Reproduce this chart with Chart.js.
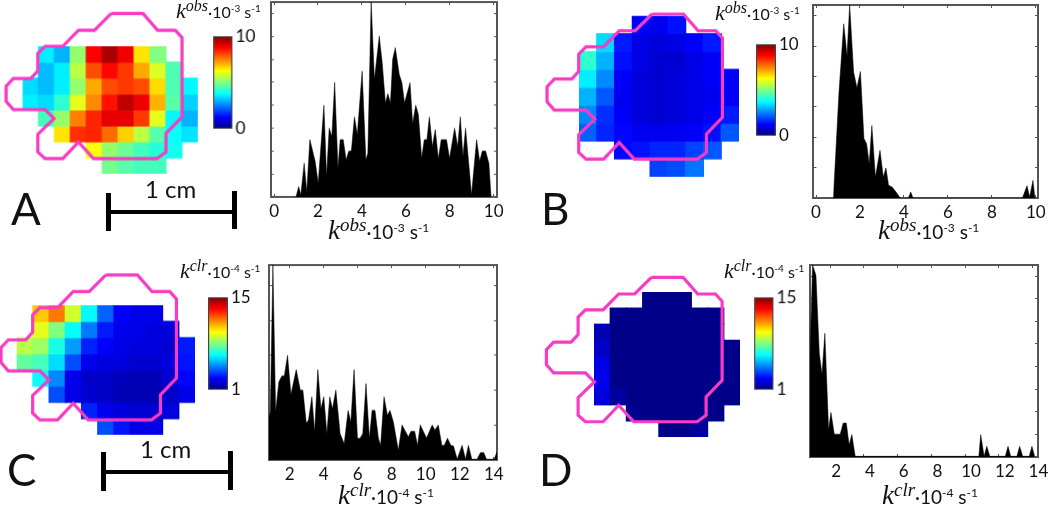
<!DOCTYPE html>
<html>
<head>
<meta charset="utf-8">
<title>kobs and kclr maps</title>
<script src="https://cdn.jsdelivr.net/npm/chart.js@4"></script>
<style>
  html, body { margin: 0; padding: 0; background: #fff; }
  #page { position: relative; width: 1050px; height: 506px; overflow: hidden; font-family: Lato, sans-serif; color: #111; }
  #page canvas { position: absolute; }
  .txt { position: absolute; white-space: nowrap; line-height: 1; }
  .rate { font-size: 19px; }
  .rate i { font-family: "Liberation Serif", serif; font-size: 27px; }
  .rate sup { font-size: 12px; vertical-align: 7px; line-height: 0; }
  .rate sup.ob { font-family: "Liberation Serif", serif; font-style: italic; font-size: 19px; vertical-align: 8px; }
  .rate.small { font-size: 16px; }
  .rate.small i { font-size: 22px; }
  .rate.small sup { font-size: 10px; vertical-align: 6px; }
  .rate.small sup.ob { font-size: 16px; vertical-align: 7px; }
  .panel { font-size: 44px; }
  .cm { font-size: 24px; }
  .bar { position: absolute; background: #000; }
</style>
</head>
<body>
<div id="page"></div>
<script>
// ── values ───────────────────────────────────────────────────
const mapA = [
  [null, 3.6, 3.0, 5.2, 8.8, 9.6, 8.9, 6.5, 5.0, null, null],
  [null, 3.1, 3.6, 5.6, 8.0, 8.7, 8.2, 7.1, 5.9, 4.5, null],
  [3.4, 3.1, 3.6, 5.2, 7.1, 8.0, 8.2, 8.0, 6.6, 4.5, 3.7],
  [3.6, 3.4, 4.2, 6.0, 7.4, 8.6, 9.4, 8.9, 7.0, 4.6, 3.3],
  [null, 4.4, 5.2, 7.5, 8.4, 9.0, 9.0, 8.2, 6.0, 3.7, 3.0],
  [null, null, 6.5, 8.3, 8.4, 7.7, 6.7, 5.6, 4.6, 3.8, 3.5],
  [null, null, null, null, 6.2, 5.2, 4.8, 4.4, 4.1, 3.9, null],
  [null, null, null, null, null, 4.9, 4.6, 4.4, 4.4, null, null],
];
const mapB = [
  [null, null, null, 1.2, 1.1, 1.4, null, null, null],
  [null, 3.4, 1.5, 1.0, 0.9, 1.0, 1.2, 1.5, null],
  [4.2, 3.0, 1.4, 1.0, 0.8, 0.8, 1.0, 1.2, null],
  [3.6, 2.6, 1.2, 0.9, 0.8, 0.9, 1.0, 1.2, 1.2],
  [3.0, 2.1, 1.1, 0.9, 0.8, 0.9, 1.0, 1.1, 1.2],
  [2.6, 1.7, 1.2, 0.9, 0.8, 0.9, 1.0, 1.2, 1.5],
  [2.2, 1.6, 1.3, 1.1, 1.1, 1.1, 1.2, 1.4, 2.1],
  [null, null, 1.3, 1.4, 1.6, 1.6, 1.9, 2.1, null],
  [null, null, null, null, 1.9, 2.0, 2.4, null, null],
];
const mapC = [
  [null, 10.5, 11.6, 9.1, 6.2, 4.1, 2.7, 2.4, 2.4, null, null],
  [null, 9.4, 8.0, 6.3, 4.4, 3.1, 2.5, 2.4, 2.3, 2.3, null],
  [8.8, 8.4, 6.6, 4.9, 3.2, 2.7, 2.4, 2.3, 2.3, 2.1, 3.1],
  [7.6, 7.2, 5.8, 3.8, 2.5, 2.3, 2.3, 2.1, 2.1, 2.3, 3.0],
  [null, 6.3, 4.6, 2.5, 2.0, 2.0, 1.8, 1.7, 1.8, 2.1, 2.8],
  [null, null, 3.8, 2.4, 2.1, 2.0, 1.7, 1.7, 1.7, 2.0, 2.4],
  [null, null, null, null, 3.2, 2.5, 2.3, 2.1, 2.1, 2.3, null],
  [null, null, null, null, null, 3.8, 3.0, 2.4, 2.4, null, null],
];
const mapD = [
  [null, null, null, 1.1, 1.1, 1.1, null, null, null],
  [null, 1.1, 1.1, 1.1, 1.1, 1.1, 1.1, 1.1, null],
  [1.7, 1.1, 1.1, 1.1, 1.1, 1.1, 1.1, 1.1, null],
  [2.0, 1.1, 1.1, 1.1, 1.1, 1.1, 1.1, 1.1, 1.1],
  [2.4, 1.1, 1.1, 1.1, 1.1, 1.1, 1.1, 1.1, 1.1],
  [2.5, 1.1, 1.1, 1.1, 1.1, 1.1, 1.1, 1.1, 1.1],
  [2.3, 1.4, 1.1, 1.1, 1.1, 1.1, 1.1, 1.1, 1.1],
  [null, null, 1.2, 1.1, 1.1, 1.1, 1.1, 1.1, null],
  [null, null, null, null, 1.1, 1.1, 1.4, null, null],
];

// the magenta region outline, same shape in every map
const outlineX = [111, 142.7, 157.3, 175, 181.7, 181.7, 165.7, 165.7, 156.7, 93.3, 78.3, 62.7, 45, 37.7, 37.7, 54, 45, 13.3, 6, 6, 13.3, 30.7, 37.7, 37.7, 45, 62.7, 78.3, 94.3, 111];
const outlineY = [13.3, 13.3, 30, 30, 37.3, 116.7, 133.3, 151.7, 158.3, 158.3, 141.7, 158.3, 158.3, 151.7, 134, 118.3, 109.3, 109.3, 101, 86, 78.3, 78.3, 70.7, 53.3, 46, 46, 30, 30, 13.3];

const histAX = [1.0, 1.12, 1.22, 1.37, 1.49, 1.63, 1.87, 2.01, 2.27, 2.39, 2.51, 2.63, 2.76, 2.91, 3.01, 3.15, 3.28, 3.4, 3.52, 3.66, 3.79, 4.01, 4.18, 4.27, 4.42, 4.57, 4.79, 4.93, 5.07, 5.18, 5.3, 5.4, 5.52, 5.7, 5.82, 5.94, 6.19, 6.31, 6.45, 6.57, 6.72, 6.84, 6.96, 7.07, 7.21, 7.34, 7.48, 7.61, 7.85, 7.99, 8.22, 8.36, 8.48, 8.6, 8.72, 8.99, 9.22, 9.36, 9.48, 9.63, 9.78, 9.88];
const histAY = [0, 0.45, 0.09, 1.47, 0.23, 2.5, 1.55, 0.6, 4.0, 0.89, 3.0, 2.64, 5.0, 1.26, 2.5, 2.5, 1.62, 1.99, 2.01, 3.49, 2.72, 5.49, 1.62, 1.9, 8.55, 5.12, 7.02, 5.78, 4.1, 4.5, 4.1, 6.0, 6.51, 5.34, 4.98, 4.1, 4.98, 3.2, 4.0, 3.6, 1.69, 2.5, 2.5, 3.49, 2.2, 2.94, 1.66, 2.5, 2.5, 1.69, 3.0, 2.2, 3.49, 1.77, 3.0, 0.09, 2.5, 1.55, 2.0, 2.0, 1.47, 0];

const histBX = [0.79, 1.04, 1.26, 1.41, 1.53, 1.71, 1.86, 2.02, 2.18, 2.3, 2.42, 2.54, 2.7, 2.91, 3.06, 3.18, 3.3, 3.46, 3.64, 3.83, 4.2, 4.31, 4.41, 9.39, 9.6, 9.72, 9.87, 9.96];
const histBY = [0, 3.44, 5.74, 4.69, 6.36, 4.15, 3.63, 4.17, 1.96, 1.79, 1.13, 2.39, 0.69, 1.57, 0.69, 0.99, 0.42, 0.36, 0.2, 0, 0, 0.2, 0, 0, 0.4, 0.03, 0.58, 0];

const histCX = [0.79, 0.87, 1.02, 1.18, 1.37, 1.55, 1.69, 1.88, 2.08, 2.39, 2.63, 2.78, 2.98, 3.11, 3.31, 3.47, 3.66, 3.84, 4.01, 4.19, 4.36, 4.52, 4.72, 4.97, 5.21, 5.44, 5.6, 5.79, 5.99, 6.14, 6.3, 6.49, 6.69, 6.85, 7.02, 7.22, 7.35, 7.55, 7.75, 7.9, 8.1, 8.39, 8.61, 8.98, 9.13, 9.35, 9.52, 9.68, 10.05, 10.38, 10.54, 10.74, 10.95, 11.09, 11.28, 11.48, 11.63, 11.85, 12.14, 12.34, 12.51, 12.71, 13.02, 13.22, 13.41, 13.57, 14.02, 14.19];
const histCY = [1.2, 1.4, 5.59, 1.38, 2.24, 2.41, 2.41, 3.0, 1.88, 2.59, 2.0, 2.0, 1.06, 1.14, 1.81, 0.81, 2.59, 1.47, 1.81, 0.75, 1.81, 1.47, 2.0, 0.75, 0.47, 1.42, 1.09, 2.59, 0.62, 0.62, 0.75, 2.19, 0.62, 1.42, 1.42, 0.62, 0.42, 1.81, 1.28, 1.42, 1.09, 0.28, 1.0, 0.66, 0.82, 0.82, 0.42, 1.0, 0.63, 1.0, 0.86, 1.0, 0.42, 0.42, 0.62, 0.42, 0.4, 0.02, 0.42, 0.02, 0.42, 0.02, 0.02, 0.21, 0.21, 0.02, 0.02, 0.23];

const histDX = [0.8, 0.95, 1.15, 1.35, 1.51, 1.68, 1.9, 2.04, 2.24, 2.59, 2.77, 2.95, 3.12, 3.28, 3.48, 10.82, 10.93, 11.13, 11.29, 11.47, 12.39, 12.55, 12.71, 13.08, 13.24, 13.42, 13.81, 13.97, 14.13];
const histDY = [4.5, 8.49, 8.04, 4.56, 3.66, 5.47, 1.2, 1.97, 1.01, 1.01, 1.5, 1.5, 0.54, 0.99, 0.03, 0.03, 0.99, 0.03, 0.47, 0.03, 0.03, 0.47, 0.03, 0.03, 0.47, 0.03, 0.03, 0.47, 0.03];

const obsTicks = [0, 2, 4, 6, 8, 10];
const clrTicks = [2, 4, 6, 8, 10, 12, 14];
const obsRange = [0, 10];
const clrRange = [1, 15];

const page = document.getElementById("page");
const OUTLINE = "#F53CC3";
const AXIS = "#555";

Chart.defaults.animation = false;
Chart.defaults.events = [];
Chart.defaults.plugins.legend.display = false;
Chart.defaults.plugins.tooltip.enabled = false;

function addCanvas(x, y, w, h) {
  const c = document.createElement("canvas");
  c.width = w;
  c.height = h;
  c.style.left = x + "px";
  c.style.top = y + "px";
  c.style.width = w + "px";
  c.style.height = h + "px";
  page.appendChild(c);
  return c;
}

function addText(html, x, y, cls) {
  const d = document.createElement("div");
  d.className = "txt " + cls;
  d.style.left = x + "px";
  d.style.top = y + "px";
  d.innerHTML = html;
  page.appendChild(d);
}

function addBar(x, y, w, h) {
  const d = document.createElement("div");
  d.className = "bar";
  d.style.cssText = `left:${x}px;top:${y}px;width:${w}px;height:${h}px`;
  page.appendChild(d);
}

// piecewise jet, same stops as the colour bars
const JET = [
  [0, [0, 0, 130]], [0.125, [0, 0, 255]], [0.375, [0, 255, 255]],
  [0.625, [255, 255, 0]], [0.875, [255, 0, 0]], [1, [128, 0, 0]],
];
function jet(t) {
  t = Math.max(0, Math.min(1, t));
  for (let i = 1; i < JET.length; i++) {
    if (t <= JET[i][0]) {
      const a = JET[i - 1], b = JET[i];
      const f = (t - a[0]) / (b[0] - a[0]);
      const m = a[1].map((v, k) => Math.round(v + (b[1][k] - v) * f));
      return `rgb(${m[0]},${m[1]},${m[2]})`;
    }
  }
  return "rgb(128,0,0)";
}

// grid = page rectangle of the cells, off = page offset of the outline
function makeMap(cells, range, grid, off) {
  const pad = 56;
  const cx = Math.max(0, grid.x - pad), cy = Math.max(0, grid.y - pad);
  const cw = grid.x - cx + grid.w + pad, ch = grid.y - cy + grid.h + pad;
  const canvas = addCanvas(cx, cy, cw, ch);
  const rows = cells.map((row, r) => ({
    data: row.map((v) => (v === null ? null : [r, r + 1])),
    backgroundColor: row.map((v) => (v === null ? "transparent" : jet((v - range[0]) / (range[1] - range[0])))),
    grouped: false,
    barPercentage: 1,
    categoryPercentage: 1,
    inflateAmount: 0.6,
  }));
  rows.push({
    type: "line",
    order: -1,
    data: outlineX.map((x, i) => ({ x: x, y: outlineY[i] })),
    xAxisID: "ox",
    yAxisID: "oy",
    borderColor: OUTLINE,
    borderWidth: 3.2,
    pointRadius: 0,
    tension: 0,
    fill: false,
    clip: false,
    borderJoinStyle: "miter",
  });
  new Chart(canvas, {
    type: "bar",
    data: { labels: cells[0].map((_, i) => i), datasets: rows },
    options: {
      responsive: false,
      layout: {
        padding: {
          left: grid.x - cx,
          top: grid.y - cy,
          right: pad,
          bottom: pad,
        },
      },
      scales: {
        x: { display: false, offset: true },
        y: { display: false, reverse: true, min: 0, max: cells.length },
        // offset must be off here, it would otherwise be inherited from x
        ox: { type: "linear", axis: "x", offset: false, display: false, min: grid.x - off.x, max: grid.x + grid.w - off.x },
        oy: { type: "linear", axis: "y", display: false, reverse: true, min: grid.y - off.y, max: grid.y + grid.h - off.y },
      },
    },
  });
}

function makeColorbar(range, x, y, w, h) {
  const canvas = addCanvas(x - 3, y - 12, w + 34, h + 24);
  new Chart(canvas, {
    type: "bar",
    data: {
      labels: [""],
      datasets: [{
        data: [[range[0], range[1]]],
        barPercentage: 1,
        categoryPercentage: 1,
        borderWidth: 1.5,
        borderColor: "#444",
        borderSkipped: false,
        backgroundColor: (ctx) => {
          const area = ctx.chart.chartArea;
          if (!area) return "#000";
          const g = ctx.chart.ctx.createLinearGradient(0, area.bottom, 0, area.top);
          JET.forEach((s) => g.addColorStop(s[0], jet(s[0])));
          return g;
        },
      }],
    },
    options: {
      responsive: false,
      layout: { padding: { left: 3, top: 12, bottom: 12, right: 0 } },
      scales: {
        x: { display: false },
        y: {
          position: "right",
          min: range[0],
          max: range[1],
          afterBuildTicks: (s) => { s.ticks = range.map((v) => ({ value: v })); },
          afterFit: (s) => { s.width = 31; },
          grid: { display: false, drawTicks: false },
          border: { display: false },
          ticks: { padding: 3, color: "#111", font: { family: "Lato", size: 17 } },
        },
      },
    },
  });
}

// rect = page rectangle of the plot box
function makeHist(xs, ys, rect, xMin, xMax, yMax, xTicks, yStep, labelOffset) {
  const canvas = addCanvas(rect.x - 5, rect.y - 4, rect.w + 22, rect.h + 30);
  const yTicks = [];
  for (let v = yStep; v < yMax; v += yStep) yTicks.push(v);
  const setTicks = (vals) => (s) => { s.ticks = vals.map((v) => ({ value: v })); };
  const inward = { display: true, drawOnChartArea: false, drawTicks: true, tickLength: -3, tickColor: AXIS, tickWidth: 1 };
  const edge = { color: AXIS, width: 2 };
  new Chart(canvas, {
    type: "line",
    data: {
      datasets: [{
        data: xs.map((x, i) => ({ x: x, y: ys[i] })),
        borderColor: "#000",
        backgroundColor: "#000",
        borderWidth: 0.5,
        pointRadius: 0,
        tension: 0,
        fill: "origin",
      }],
    },
    options: {
      responsive: false,
      layout: { padding: { left: 5, top: 4, right: 17, bottom: 0 } },
      scales: {
        x: {
          type: "linear", position: "bottom", min: xMin, max: xMax,
          afterBuildTicks: setTicks(xTicks),
          afterFit: (s) => { s.height = 26; },
          grid: inward, border: edge,
          ticks: {
            autoSkip: false, maxRotation: 0, padding: 7, labelOffset: labelOffset,
            color: "#111", font: { family: "Lato", size: 17 },
          },
        },
        y: {
          type: "linear", position: "left", min: 0, max: yMax,
          afterBuildTicks: setTicks(yTicks),
          afterFit: (s) => { s.width = 0; },
          grid: inward, border: edge,
          ticks: { display: false },
        },
        xTop: {
          type: "linear", position: "top", min: xMin, max: xMax,
          afterBuildTicks: setTicks(xTicks),
          afterFit: (s) => { s.height = 0; },
          grid: inward, border: edge,
          ticks: { display: false },
        },
        yRight: {
          type: "linear", position: "right", min: 0, max: yMax,
          afterBuildTicks: setTicks(yTicks),
          afterFit: (s) => { s.width = 0; },
          grid: inward, border: edge,
          ticks: { display: false },
        },
      },
    },
  });
}

function rateText(sym, exp) {
  return `<i>k</i><sup class="ob">${sym}</sup>·10<sup>-${exp}</sup> s<sup>-1</sup>`;
}

function scaleBar(xl, yl, xr, yr, capH, lineY) {
  addBar(xl, lineY, xr - xl, 4);
  addBar(xl, yl, 5, capH);
  addBar(xr, yr, 5, capH);
}

// ── maps ──
makeMap(mapA, obsRange, { x: 22.5, y: 46, w: 175, h: 127.5 }, { x: 0, y: 0 });
makeMap(mapB, obsRange, { x: 578.7, y: 15.7, w: 160.3, h: 161 }, { x: 540.7, y: 0.7 });
makeMap(mapC, clrRange, { x: 16.7, y: 305.3, w: 178.6, h: 129.7 }, { x: -5, y: 261.7 });
makeMap(mapD, clrRange, { x: 594.3, y: 291.7, w: 146, h: 145.6 }, { x: 540.7, y: 263.7 });

// ── colour bars ──
makeColorbar(obsRange, 213, 34.5, 19.5, 95.5);
makeColorbar(obsRange, 756, 42.7, 20, 94.5);
makeColorbar(clrRange, 208, 295.7, 20, 95);
makeColorbar(clrRange, 754, 296.3, 19.5, 94.7);

// ── histograms ──
makeHist(histAX, histAY, { x: 266.7, y: 2.3, w: 230, h: 194.7 }, -0.15, 10.15, 8.5, obsTicks, 1, 0);
makeHist(histBX, histBY, { x: 809, y: 4.7, w: 229.3, h: 193 }, -0.12, 10.1, 6.36, obsTicks, 1, 0);
makeHist(histCX, histCY, { x: 268.7, y: 265, w: 228.6, h: 194.7 }, 0.79, 14.19, 5.59, clrTicks, 1, 0);
makeHist(histDX, histDY, { x: 809.7, y: 265, w: 228.6, h: 192.3 }, 0.797, 14.33, 8.49, clrTicks, 1, 6);

// ── titles, axis captions, panel letters, scale bars ──
addText(rateText("obs", 3), 176, 0, "rate small");
addText(rateText("obs", 3), 715, 2, "rate small");
addText(rateText("clr", 4), 180, 260, "rate small");
addText(rateText("clr", 4), 724, 260, "rate small");

addText(rateText("obs", 3), 328, 217, "rate");
addText(rateText("obs", 3), 878, 217, "rate");
addText(rateText("clr", 4), 338, 482, "rate");
addText(rateText("clr", 4), 882, 482, "rate");

addText("A", 11, 186, "panel");
addText("B", 541, 186, "panel");
addText("C", 7, 447, "panel");
addText("D", 539, 447, "panel");

addText("1 cm", 145, 177, "cm");
addText("1 cm", 140, 437, "cm");
scaleBar(106, 192.7, 232, 190.7, 38, 209.7);
scaleBar(101, 452, 228, 451, 39, 469.5);
</script>
</body>
</html>
